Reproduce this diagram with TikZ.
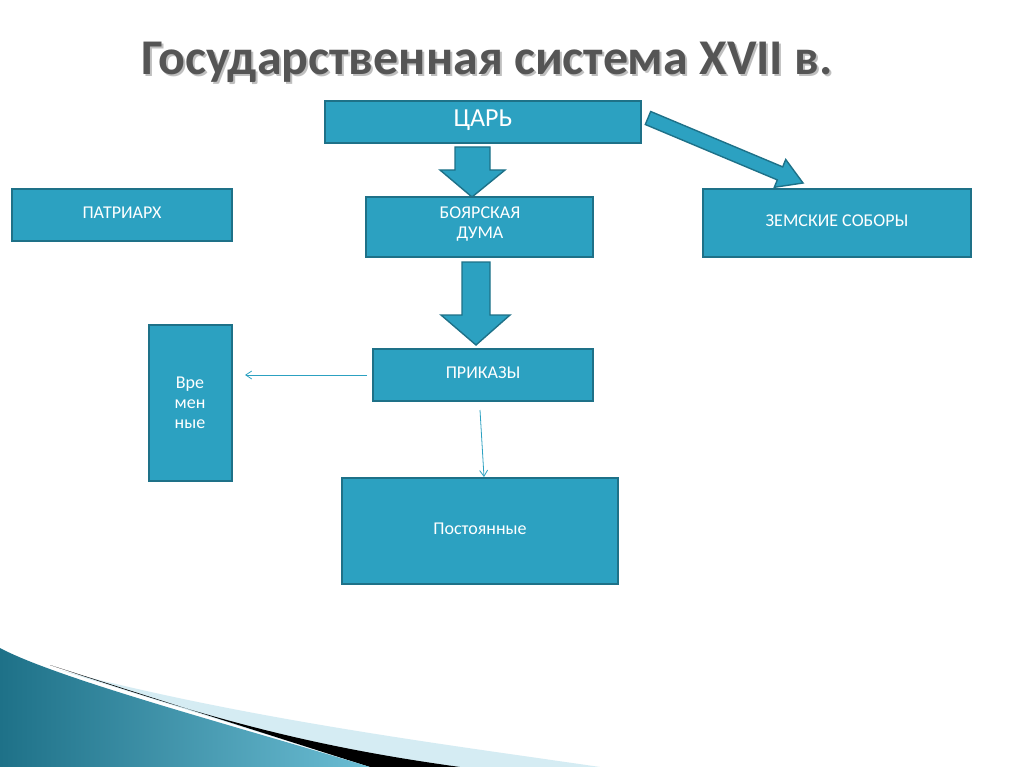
\documentclass[tikz,border=0pt]{standalone}
\usepackage{fontspec}
\setmainfont{Carlito}
\usetikzlibrary{arrows.meta}
\definecolor{boxf}{HTML}{2CA1C1}
\definecolor{boxd}{HTML}{1E7188}
\definecolor{titc}{HTML}{555555}
\begin{document}
\begin{tikzpicture}[x=1pt,y=-1pt,
  bx/.style={draw=boxd,line width=1.6pt,fill=boxf},
  bxt/.style={text=white,font=\fontsize{18}{20}\selectfont,align=center},
  barrow/.style={draw=boxd,fill=boxf,line width=1.4pt,line join=miter},
  thin/.style={draw=boxf,line width=0.8pt,-{Straight Barb[length=6pt,width=8pt]}}]
\useasboundingbox (0,0) rectangle (1024,767);
\fill[white] (0,0) rectangle (1024,767);
% bottom decoration
\fill[boxf!20!white] (60,670) .. controls (250,720) and (450,745) .. (600,767) -- (370,767) -- cycle;
\fill[black] (50,665) .. controls (200,715) and (300,745) .. (460,767) -- (370,767) -- cycle;
\shade[left color=boxd,right color=boxf!70!white] (0,648) .. controls (60,680) and (250,730) .. (370,767) -- (0,767) -- cycle;
% title
\node[font=\fontsize{50}{56}\selectfont\bfseries,text=black!25] (titsh) at (489,64) {Государственная система XVII в.};
\node[font=\fontsize{50}{56}\selectfont\bfseries,text=titc] (tit) at (487,62) {Государственная система XVII в.};
% boxes
\path[bx] (325,101) rectangle (641,143);
\node[bxt,font=\fontsize{26}{28}\selectfont] (tsar) at (483,120) {ЦАРЬ};
\path[bx] (366,197) rectangle (593,257);
\node[bxt] (duma) at (480,224) {БОЯРСКАЯ\\ДУМА};
\path[bx] (703,189) rectangle (971,257);
\node[bxt] (zem) at (837,221) {ЗЕМСКИЕ СОБОРЫ};
\path[bx] (12,189) rectangle (232,241);
\node[bxt] (patr) at (122,213) {ПАТРИАРХ};
\path[bx] (149,325) rectangle (232,481);
\node[bxt] (vrem) at (190,403) {Вре\\мен\\ные};
\path[bx] (373,349) rectangle (593,401);
\node[bxt] (prik) at (483,373) {ПРИКАЗЫ};
\path[bx] (342,478) rectangle (618,584);
\node[bxt] (post) at (480,529) {Постоянные};
% block arrows
\path[barrow] (455,147) -- (490,147) -- (490,170) -- (505,170) -- (472,197) -- (440,170) -- (455,170) -- cycle;
\path[barrow] (462,262) -- (490,262) -- (490,315) -- (510,315) -- (476,345) -- (441,315) -- (462,315) -- cycle;
\path[barrow] (645.3,124.5) -- (777.3,179.9) -- (774.3,187.3) -- (803,183) -- (785.7,159.5) -- (782.7,166.9) -- (650.7,111.5) -- cycle;
% thin arrows
\coordinate (a1) at (367,375); \coordinate (a2) at (245,375);
\draw[thin] (a1) -- (a2);
\coordinate (b1) at (480,410); \coordinate (b2) at (484,477);
\draw[thin] (b1) -- (b2);
\end{tikzpicture}
\end{document}
